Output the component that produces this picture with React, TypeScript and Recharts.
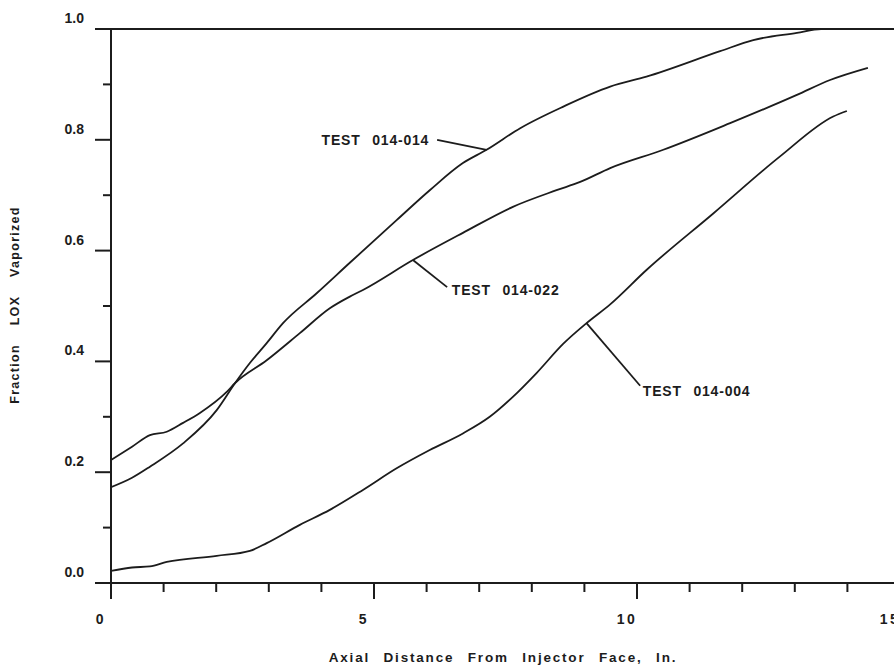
import React from 'react'
import {
  LineChart,
  Line,
  XAxis,
  YAxis,
  ReferenceLine,
  ReferenceDot
} from 'recharts'

// axial distance (in.) and fraction vaporized, per test
const test014X = [0, 0.4, 0.74, 1.37, 2.01, 2.36, 2.64, 2.96, 3.27, 3.91, 4.54, 5.43, 6.06, 6.69, 7.14, 7.78, 8.6, 9.49, 10.18, 11.58, 12.21, 13.04, 13.5, 15]
const test014Y = [0.173, 0.19, 0.21, 0.252, 0.312, 0.361, 0.397, 0.433, 0.469, 0.523, 0.578, 0.655, 0.709, 0.758, 0.782, 0.821, 0.86, 0.896, 0.914, 0.96, 0.98, 0.993, 1.0, 1.0]

const test022X = [0, 0.4, 0.74, 1.06, 1.37, 1.69, 2.2, 2.36, 2.96, 3.59, 4.16, 4.54, 4.79, 5.74, 6.69, 7.64, 8.47, 8.92, 9.49, 10.5, 11.77, 13.04, 13.67, 14.39]
const test022Y = [0.222, 0.246, 0.267, 0.273, 0.289, 0.307, 0.345, 0.361, 0.402, 0.451, 0.496, 0.517, 0.529, 0.583, 0.632, 0.679, 0.709, 0.724, 0.749, 0.782, 0.83, 0.881, 0.908, 0.93]

const test004X = [0, 0.4, 0.74, 1.06, 2.01, 2.64, 2.96, 3.59, 4.16, 4.79, 5.43, 6.06, 6.69, 7.2, 7.64, 8.09, 8.6, 9.04, 9.49, 10.18, 11.45, 12.72, 13.73, 13.99]
const test004Y = [0.022, 0.028, 0.03, 0.038, 0.049, 0.058, 0.072, 0.105, 0.132, 0.168, 0.207, 0.24, 0.27, 0.3, 0.336, 0.379, 0.432, 0.469, 0.503, 0.565, 0.667, 0.77, 0.842, 0.852]

const xTicks = [0, 1, 2, 3, 4, 5, 6, 7, 8, 9, 10, 11, 12, 13, 14, 15]
const yTicks = [0, 0.1, 0.2, 0.3, 0.4, 0.5, 0.6, 0.7, 0.8, 0.9, 1.0]

const INK = '#1c1c1c'
const FONT = '"Liberation Sans", Arial, sans-serif'

const toPoints = (xs: number[], ys: number[]) => xs.map((x, i) => ({ x, y: ys[i] }))

const series = [
  { name: 'TEST 014-014', data: toPoints(test014X, test014Y) },
  { name: 'TEST 014-022', data: toPoints(test022X, test022Y) },
  { name: 'TEST 014-004', data: toPoints(test004X, test004Y) }
]

// callouts: leader from curve to text, text anchor point
const callouts = [
  { text: 'TEST 014-014', from: { x: 7.14, y: 0.782 }, to: { x: 6.2, y: 0.8 }, at: { x: 6.05, y: 0.8 }, anchor: 'end' },
  { text: 'TEST 014-022', from: { x: 5.74, y: 0.583 }, to: { x: 6.39, y: 0.534 }, at: { x: 6.48, y: 0.529 }, anchor: 'start' },
  { text: 'TEST 014-004', from: { x: 9.04, y: 0.469 }, to: { x: 10.06, y: 0.356 }, at: { x: 10.11, y: 0.347 }, anchor: 'start' }
]

const XTick = (props: any) => {
  const { x, y, payload } = props
  const major = payload.value % 5 === 0
  return (
    <g>
      <line x1={x} y1={y} x2={x} y2={y + (major ? 16 : 9)} stroke={INK} strokeWidth={2} />
      {major && (
        <text x={x - 10} y={y + 36} textAnchor="middle" dominantBaseline="central"
          fontFamily={FONT} fontWeight="bold" fontSize={14} letterSpacing={2.5} fill={INK}>
          {payload.value}
        </text>
      )}
    </g>
  )
}

const YTick = (props: any) => {
  const { x, y, payload } = props
  const major = Math.round(payload.value * 10) % 2 === 0
  return (
    <g>
      <line x1={x - (major ? 16 : 8)} y1={y} x2={x} y2={y} stroke={INK} strokeWidth={2} />
      {major && (
        <text x={x - 27} y={y - 11} textAnchor="end" dominantBaseline="central"
          fontFamily={FONT} fontWeight="bold" fontSize={14} fill={INK}>
          {payload.value.toFixed(1)}
        </text>
      )}
    </g>
  )
}

const CalloutText = (text: string, anchor: string) => (props: any) => (
  <text x={props.cx} y={props.cy} textAnchor={anchor} dominantBaseline="central"
    fontFamily={FONT} fontWeight="bold" fontSize={14} letterSpacing={0.8} wordSpacing={7} fill={INK}>
    {text}
  </text>
)

export default function App() {
  return (
    <div style={{ position: 'absolute', left: 0, top: 0, width: 894, height: 667, overflow: 'hidden', background: '#fff' }}>
      <LineChart width={920} height={667} margin={{ top: 29, right: 20, bottom: 0, left: 0 }}>
        <XAxis
          type="number"
          dataKey="x"
          domain={[0, 15]}
          ticks={xTicks}
          allowDataOverflow
          height={84}
          tickSize={0}
          tickMargin={0}
          tick={<XTick />}
          axisLine={{ stroke: INK, strokeWidth: 2 }}
          tickLine={false}
          interval={0}
        />
        <YAxis
          type="number"
          dataKey="y"
          domain={[0, 1]}
          ticks={yTicks}
          width={111}
          tickSize={0}
          tickMargin={0}
          tick={<YTick />}
          axisLine={{ stroke: INK, strokeWidth: 2 }}
          tickLine={false}
          interval={0}
        />
        <ReferenceLine y={1} stroke={INK} strokeWidth={2} />
        {series.map((s) => (
          <Line
            key={s.name}
            data={s.data}
            dataKey="y"
            type="monotone"
            stroke={INK}
            strokeWidth={1.8}
            dot={false}
            activeDot={false}
            isAnimationActive={false}
          />
        ))}
        {callouts.map((c) => (
          <ReferenceLine
            key={c.text + '-leader'}
            segment={[c.from, c.to]}
            stroke={INK}
            strokeWidth={1.8}
            ifOverflow="visible"
          />
        ))}
        {callouts.map((c) => (
          <ReferenceDot
            key={c.text}
            x={c.at.x}
            y={c.at.y}
            r={0}
            ifOverflow="visible"
            shape={CalloutText(c.text, c.anchor)}
          />
        ))}
        <text x={503} y={657} textAnchor="middle" dominantBaseline="central"
          fontFamily={FONT} fontWeight="bold" fontSize={13.5} letterSpacing={1.8} wordSpacing={8} fill={INK}>
          Axial Distance From Injector Face, In.
        </text>
        <text x={15} y={305} textAnchor="middle" dominantBaseline="central" transform="rotate(-90 15 305)"
          fontFamily={FONT} fontWeight="bold" fontSize={12.5} letterSpacing={1.3} wordSpacing={14} fill={INK}>
          Fraction LOX Vaporized
        </text>
      </LineChart>
    </div>
  )
}
